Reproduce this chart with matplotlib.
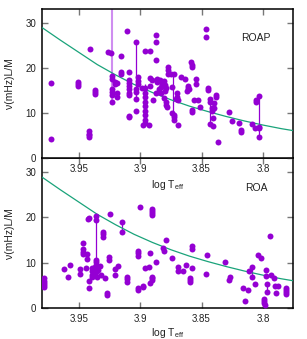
import matplotlib
matplotlib.use('Agg')
import matplotlib.pyplot as plt

plt.rcParams['font.family'] = ['Liberation Sans', 'DejaVu Sans']
plt.rcParams['mathtext.fontset'] = 'custom'
plt.rcParams['mathtext.rm'] = 'Liberation Sans'
plt.rcParams['mathtext.it'] = 'Liberation Sans:italic'

# model curve (same in both panels)
curve_teff = [3.98, 3.965, 3.95, 3.935, 3.92, 3.905, 3.89, 3.875, 3.86, 3.845, 3.83, 3.815, 3.80, 3.785, 3.775]
curve_nu = [28.9, 26.1, 23.4, 20.7, 18.4, 16.3, 14.5, 12.9, 11.5, 10.3, 9.2, 8.2, 7.3, 6.5, 6.05]

# ROAP stars
roap_teff = [3.973, 3.973, 3.9505, 3.9505, 3.9505, 3.941, 3.942, 3.942, 3.942, 3.942,
             3.9366, 3.9366, 3.9366, 3.9266, 3.9234,
             3.9226, 3.9226, 3.9226, 3.9226, 3.9226, 3.9226, 3.9207, 3.9207,
             3.9185, 3.9185, 3.9185, 3.916, 3.9155, 3.9155, 3.9111,
             3.909, 3.909, 3.909, 3.909, 3.909, 3.909, 3.909, 3.909, 3.909,
             3.9038, 3.9038, 3.9038, 3.9038, 3.9038, 3.9017, 3.9017, 3.9017, 3.8989,
             3.896, 3.892,
             3.8957, 3.8957, 3.8957, 3.8957, 3.8957, 3.8957, 3.8957, 3.8957, 3.8957,
             3.898, 3.893, 3.8916, 3.8907, 3.8916, 3.8894,
             3.887, 3.887, 3.887,
             3.886, 3.886, 3.884, 3.882, 3.883, 3.881, 3.880, 3.879, 3.880, 3.885, 3.887, 3.883,
             3.8805, 3.879, 3.879, 3.878,
             3.8777, 3.8777, 3.8777, 3.8745, 3.8725, 3.8737,
             3.8723, 3.8723, 3.8723, 3.874,
             3.870, 3.870, 3.869, 3.871, 3.869,
             3.867, 3.8636, 3.861, 3.861, 3.860, 3.862,
             3.8589, 3.858, 3.8578, 3.8577, 3.8577, 3.856, 3.853, 3.8547, 3.8547, 3.8514,
             3.8463, 3.8463, 3.845, 3.845,
             3.8432, 3.8432, 3.8418, 3.8418, 3.8432, 3.8405,
             3.838, 3.838, 3.840, 3.840, 3.8405, 3.8365,
             3.8277, 3.8255, 3.8196, 3.8182, 3.8175, 3.809, 3.8066,
             3.8057, 3.8057, 3.803, 3.803, 3.803, 3.803]
roap_nu = [16.6, 4.2, 16.8, 16.3, 15.9, 24.1, 5.9, 5.4, 5.0, 4.6,
           15.1, 14.6, 14.1, 23.5, 23.2,
           18.2, 17.6, 15.2, 14.6, 13.9, 12.3, 16.9, 16.4,
           16.7, 14.3, 13.6, 22.6, 19.0, 18.6, 28.2,
           19.0, 17.3, 16.6, 15.9, 15.2, 14.5, 13.9, 9.3, 9.0,
           25.8, 15.2, 14.6, 13.1, 10.4, 17.9, 17.0, 16.5, 15.5,
           23.6, 23.6,
           15.5, 14.5, 13.5, 12.5, 11.5, 10.5, 9.5, 8.5, 7.7,
           7.4, 7.4, 17.8, 17.3, 15.9, 12.9,
           27.3, 25.6, 21.7,
           17.6, 16.9, 17.2, 16.4, 15.8, 17.0, 16.1, 15.4, 14.8, 15.2, 14.5, 14.3,
           13.3, 12.5, 11.8, 11.3,
           20.2, 19.5, 18.7, 18.5, 18.5, 15.8,
           9.6, 9.0, 8.4, 9.9,
           14.3, 13.6, 12.9, 13.1, 7.4,
           17.9, 17.4, 16.0, 15.6, 15.2, 14.9,
           21.2, 20.6, 20.2, 10.6, 10.1, 12.8, 12.8, 17.5, 16.5, 11.2,
           28.5, 26.9, 15.4, 15.0,
           13.1, 12.3, 11.1, 10.5, 7.6, 7.1,
           14.0, 13.5, 12.1, 11.0, 8.8, 3.6,
           10.3, 8.3, 7.8, 6.2, 5.7, 7.5, 6.6,
           12.8, 12.3, 13.7, 6.9, 6.6, 4.7]

# vertical range lines, ROAP panel
roap_line_teff = [3.9038, 3.8957, 3.8731, 3.8432, 3.803]
roap_line_lo = [13.1, 7.7, 9.9, 7.6, 4.7]
roap_line_hi = [25.8, 16.5, 18.5, 13.1, 13.7]
roap_faint_teff = [3.9226]
roap_faint_lo = [12.3]
roap_faint_hi = [34.0]

# ROA stars
roa_teff = [3.978, 3.978, 3.978, 3.978, 3.978,
            3.962, 3.959, 3.9568, 3.9492, 3.9492,
            3.9465, 3.9465, 3.9465, 3.9465, 3.943, 3.943, 3.9444, 3.9424, 3.9418,
            3.939, 3.939, 3.939, 3.939, 3.9416, 3.9416,
            3.9357, 3.9357, 3.9357, 3.9357, 3.9357,
            3.937, 3.934, 3.933, 3.938, 3.935, 3.932, 3.936,
            3.930, 3.930, 3.930, 3.929, 3.927, 3.927, 3.925, 3.9258, 3.9258,
            3.9204, 3.9204, 3.9177, 3.9145, 3.9145,
            3.9104, 3.9104, 3.9104, 3.902, 3.902, 3.902, 3.902, 3.902, 3.9005,
            3.890, 3.890, 3.890, 3.890, 3.8977, 3.8977, 3.8962, 3.893, 3.8921, 3.8921,
            3.890, 3.890, 3.890, 3.8873, 3.8813, 3.8805, 3.8791, 3.8742,
            3.869, 3.869, 3.865, 3.8623, 3.858, 3.858, 3.858,
            3.8596, 3.8596, 3.8596, 3.8466, 3.8452, 3.831, 3.8269, 3.8275,
            3.816, 3.8125, 3.8147, 3.811, 3.8085, 3.8085, 3.8066, 3.8038, 3.8019,
            3.7976, 3.7976, 3.799, 3.799, 3.799, 3.7985, 3.7943, 3.7938,
            3.7965, 3.7965, 3.7913, 3.790, 3.7876, 3.7895,
            3.7813, 3.7813, 3.7813, 3.7813]
roa_nu = [6.6, 6.1, 5.6, 5.1, 4.6,
          8.7, 7.0, 9.6, 8.6, 7.5,
          14.3, 13.0, 12.5, 12.0, 11.9, 10.9, 8.9, 19.6, 19.9,
          8.9, 8.2, 7.4, 6.9, 6.1, 4.5,
          20.4, 19.4, 10.7, 10.2, 9.5,
          9.0, 8.4, 9.3, 7.4, 7.0, 7.4, 8.0,
          16.9, 16.4, 15.8, 6.7, 3.4, 3.0, 20.8, 11.4, 10.7,
          8.6, 7.3, 9.3, 19.1, 16.8,
          6.9, 6.4, 5.9, 12.7, 12.1, 11.5, 4.4, 4.1, 22.4,
          21.9, 21.4, 20.9, 20.6, 5.0, 4.7, 8.8, 9.2, 12.1, 5.5,
          7.0, 6.6, 6.2, 10.3, 13.2, 12.6, 15.0, 11.0,
          9.1, 8.2, 8.2, 9.6, 8.8, 13.7, 13.1,
          6.7, 6.2, 5.7, 7.6, 11.8, 10.1, 6.8, 6.3,
          4.4, 4.0, 1.6, 8.3, 9.2, 7.0, 5.4, 11.8, 11.1,
          8.4, 7.1, 2.1, 1.6, 1.1, 0.8, 16.0, 7.4,
          5.4, 3.6, 6.7, 4.9, 4.9, 3.3,
          4.5, 4.0, 3.6, 3.2]

# vertical range lines, ROA panel
roa_line_teff = [3.9357, 3.9145, 3.8085, 3.7965]
roa_line_lo = [9.5, 16.8, 7.0, 3.6]
roa_line_hi = [20.4, 19.1, 9.2, 5.4]

purple = '#9400d3'
green = '#1aa37a'

fig = plt.figure(figsize=(3.07, 3.39), dpi=100)
ax_top = fig.add_axes([0.1368, 0.5339, 0.8176, 0.4395])
ax_bot = fig.add_axes([0.1368, 0.0906, 0.8176, 0.4419])
ax_top.set_zorder(2)

panels = [
    (ax_top, roap_teff, roap_nu, roap_line_teff, roap_line_lo, roap_line_hi, 'ROAP', -0.132),
    (ax_bot, roa_teff, roa_nu, roa_line_teff, roa_line_lo, roa_line_hi, 'ROA', -0.118),
]

for ax, xs, ys, lx, llo, lhi, name, xlab_y in panels:
    ax.vlines(lx, llo, lhi, color=purple, lw=0.9, zorder=2)
    ax.plot(curve_teff, curve_nu, color=green, lw=0.9, zorder=3)
    ax.plot(xs, ys, 'o', color=purple, ms=4.3, mec='none', zorder=4)

    ax.set_xlim(3.98, 3.7755)
    ax.set_ylim(0, 33)
    ax.set_xticks([3.95, 3.9, 3.85, 3.8])
    ax.set_xticklabels(['3.95', '3.9', '3.85', '3.8'])
    ax.set_yticks([0, 10, 20, 30])
    ax.tick_params(direction='in', length=4.5, width=1.0, color='#777777',
                   top=True, right=True, labelsize=7, pad=4, labelcolor='#222222')
    for sp in ax.spines.values():
        sp.set_linewidth(1.1)

    ax.set_xlabel(r'log T$_{\rm eff}$', fontsize=7.5, color='#222222')
    ax.xaxis.set_label_coords(0.5, xlab_y)
    ax.set_ylabel('ν(mHz)L/M', fontsize=7.5, color='#222222')
    ax.yaxis.set_label_coords(-0.108, 0.5)

    ax.text(3.8055, 26.5, name, ha='center', va='center', fontsize=7.5, color='#222222')

# faint long line in the ROAP panel
ax_top.vlines(roap_faint_teff, roap_faint_lo, roap_faint_hi, color='#cf8ef0', lw=1.5, zorder=2)

fig.savefig('out.png', dpi=100)
